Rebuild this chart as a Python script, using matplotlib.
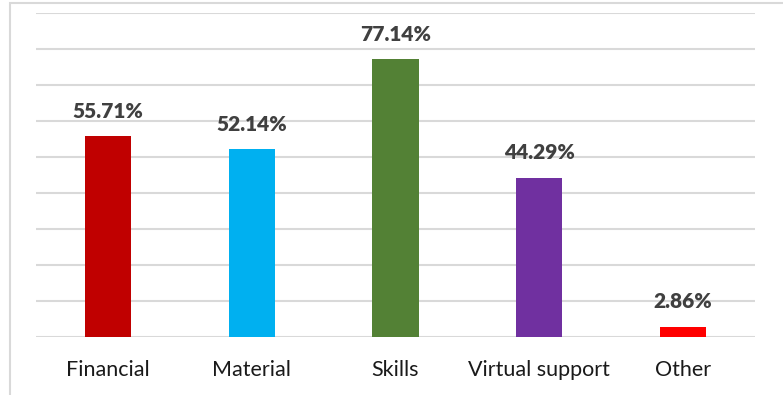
import matplotlib.pyplot as plt
from matplotlib.patches import Rectangle

# support types and share of respondents (%)
categories = ["Financial", "Material", "Skills", "Virtual support", "Other"]
values = [55.71, 52.14, 77.14, 44.29, 2.86]
colors = ["#c00000", "#00b0f0", "#538135", "#7030a0", "#ff0000"]

plt.rcParams['font.family'] = ['Lato', 'DejaVu Sans']

fig = plt.figure(figsize=(7.83, 3.95), dpi=100)
ax = fig.add_axes([36 / 783, 58 / 395, 719 / 783, 324 / 395])

# light border round the chart area
fig.patches.append(Rectangle((10 / 783, -0.1), 1.2, 392 / 395 + 0.1,
                             transform=fig.transFigure, fill=False,
                             edgecolor="#d9d9d9", linewidth=1.5, zorder=0))

x = range(len(categories))
bars = ax.bar(x, values, width=0.32, color=colors, zorder=3)

for b, v in zip(bars, values):
    ax.annotate(f"{v:.2f}%", (b.get_x() + b.get_width() / 2, v),
                xytext=(0, 11), textcoords="offset points",
                ha="center", va="bottom", fontsize=15, fontweight="heavy",
                color="#404040")

ax.set_xlim(-0.5, 4.5)
ax.set_ylim(0, 90)
ax.set_yticks(range(0, 91, 10))
ax.yaxis.grid(True, color="#d9d9d9", linewidth=1.5, zorder=0)
ax.tick_params(axis="y", left=False, labelleft=False)
ax.tick_params(axis="x", bottom=False, labelsize=15.5, labelcolor="#1a1a1a", pad=13)
ax.set_xticks(list(x))
ax.set_xticklabels(categories)
for s in ax.spines.values():
    s.set_visible(False)

fig.savefig("out.png", dpi=100)
